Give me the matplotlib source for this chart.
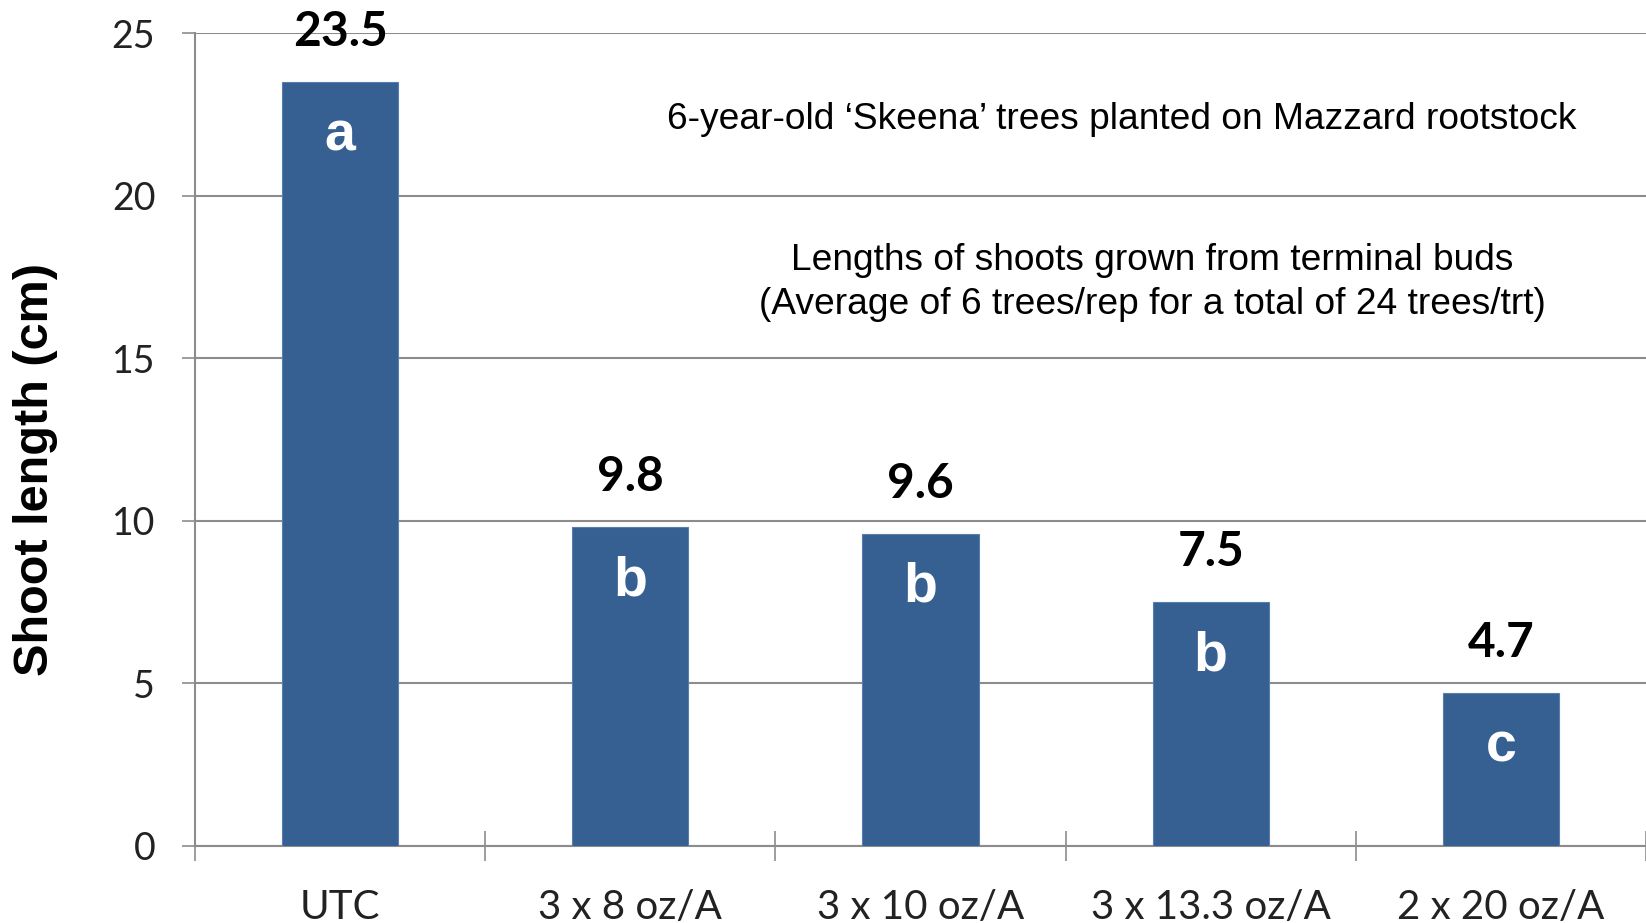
import matplotlib
matplotlib.use("Agg")
import matplotlib.pyplot as plt
import numpy as np

# data
treatments = ["UTC", "3 x 8 oz/A", "3 x 10 oz/A", "3 x 13.3 oz/A", "2 x 20 oz/A"]
shoot_len = [23.5, 9.8, 9.6, 7.5, 4.7]
letters = ["a", "b", "b", "b", "c"]
yticks = [0, 5, 10, 15, 20, 25]

bar_color = "#376092"
grid_color = "#8c8c8c"

fig = plt.figure(figsize=(16.46, 9.23), dpi=100)
ax = fig.add_axes([195 / 1646, 77.3 / 923, 1 - 195 / 1646, 812.4 / 923])

x = np.arange(len(treatments))
bars = ax.bar(x, shoot_len, width=0.40, color=bar_color, edgecolor="#5a7fae",
              linewidth=0.8, zorder=3)

# value labels above bars, significance letters inside
for xi, v, let in zip(x, shoot_len, letters):
    ax.annotate(f"{v}", (xi, v), xytext=(0, 26), textcoords="offset points",
                ha="center", va="baseline", fontsize=34.5, fontweight="bold",
                family="Lato", color="black", annotation_clip=False, zorder=5)
    ax.annotate(let, (xi, v), xytext=(0, -49), textcoords="offset points",
                ha="center", va="baseline", fontsize=40, fontweight="bold",
                family="Liberation Sans", color="white", zorder=5)

ax.set_ylim(0, 25)
ax.set_xlim(-0.5, (1646 - 195) / 292.5 - 0.5)
ax.set_yticks(yticks)
ax.set_yticklabels([str(t) for t in yticks], family="Lato", fontsize=27,
                   color="#222222")
ax.yaxis.grid(True, color=grid_color, linewidth=1.5, zorder=0)
ax.tick_params(axis="y", length=9.6, width=1.2, color=grid_color, pad=19)

# category boundaries as ticks, labels on the centres
ax.set_xticks(np.arange(len(treatments) + 1) - 0.5, minor=False)
ax.set_xticklabels([])
ax.set_xticks(x, minor=True)
ax.set_xticklabels(treatments, minor=True, family="Lato", fontsize=29,
                   color="#222222")
ax.tick_params(axis="x", which="major", direction="inout", length=21,
               width=1.2, color=grid_color)
ax.tick_params(axis="x", which="minor", length=0, pad=31)

for s in ["top", "right"]:
    ax.spines[s].set_visible(False)
for s in ["left", "bottom"]:
    ax.spines[s].set_color(grid_color)
    ax.spines[s].set_linewidth(1.5)

fig.text(36 / 1646, 0.491, "Shoot length (cm)", rotation=90, ha="center",
         va="center", fontsize=35, fontweight="bold", family="Liberation Sans")

fig.text(1122 / 1646, 1 - 119 / 923,
         "6-year-old \u2018Skeena\u2019 trees planted on Mazzard rootstock",
         ha="center", va="center", fontsize=26.75, family="Liberation Sans")
fig.text(1152 / 1646, 1 - 261 / 923,
         "Lengths of shoots grown from terminal buds",
         ha="center", va="center", fontsize=26.75, family="Liberation Sans")
fig.text(1152 / 1646, 1 - 305 / 923,
         "(Average of 6 trees/rep for a total of 24 trees/trt)",
         ha="center", va="center", fontsize=26.75, family="Liberation Sans")

fig.savefig("out.png", dpi=100)
